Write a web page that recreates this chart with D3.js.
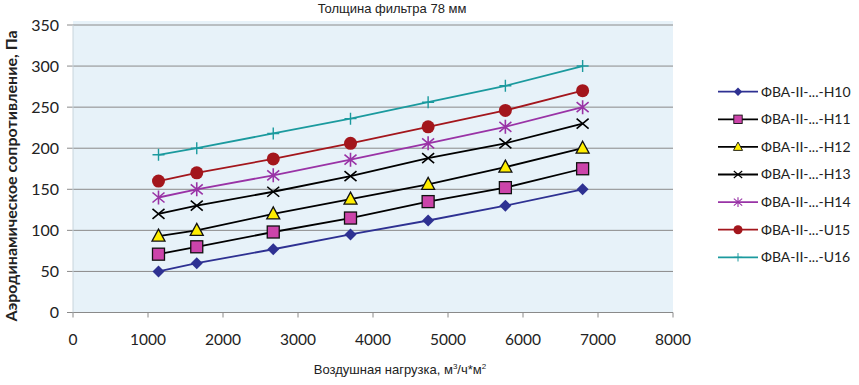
<!DOCTYPE html>
<html><head><meta charset="utf-8">
<script src="https://cdn.jsdelivr.net/npm/d3@7"></script>
<style>body{margin:0;background:#fff}svg{display:block}</style>
</head><body>
<script>
const xValues = [1140, 1650, 2670, 3700, 4735, 5765, 6795];
const seriesNames = ["ФВА-II-...-H10","ФВА-II-...-H11","ФВА-II-...-H12","ФВА-II-...-H13","ФВА-II-...-H14","ФВА-II-...-U15","ФВА-II-...-U16"];
const h10 = [50, 60, 77, 95, 112, 130, 150];
const h11 = [71, 80, 98, 115, 135, 152, 175];
const h12 = [93, 100, 120, 138, 156, 177, 200];
const h13 = [120, 130, 147, 166, 188, 206, 230];
const h14 = [140, 150, 167, 186, 206, 226, 250];
const u15 = [160, 170, 187, 206, 226, 246, 270];
const u16 = [192, 200, 218, 236, 256, 276, 300];
const xTicks = [0,1000,2000,3000,4000,5000,6000,7000,8000];
const yTicks = [0,50,100,150,200,250,300,350];

const styles = [
  {line:"#2e3192", marker:"diamond", fill:"#2e3192", stroke:"#2e3192"},
  {line:"#000000", marker:"square", fill:"#cc44aa", stroke:"#111"},
  {line:"#000000", marker:"triangle", fill:"#ffee00", stroke:"#111"},
  {line:"#000000", marker:"x", fill:"none", stroke:"#000"},
  {line:"#9933a6", marker:"star", fill:"none", stroke:"#9933a6"},
  {line:"#a3161c", marker:"circle", fill:"#a3161c", stroke:"#a3161c"},
  {line:"#1b9a9e", marker:"plus", fill:"none", stroke:"#1b9a9e"}
];
const allSeries = [h10,h11,h12,h13,h14,u15,u16];

const W=859,H=385;
const svg=d3.select("body").append("svg").attr("width",W).attr("height",H);
const x=d3.scaleLinear().domain([0,8000]).range([73,673]);
const y=d3.scaleLinear().domain([0,350]).range([312.5,25]);

svg.append("rect").attr("x",73).attr("y",21).attr("width",600).attr("height",312.5-21).attr("fill","#e7f2f9");

svg.append("g").selectAll("line").data(yTicks).join("line")
  .attr("x1",67).attr("x2",673).attr("y1",d=>y(d)).attr("y2",d=>y(d))
  .attr("stroke","#8a8a8a").attr("stroke-width",1);
svg.append("line").attr("x1",73).attr("x2",673).attr("y1",y(0)).attr("y2",y(0)).attr("stroke","#8a8a8a");
svg.append("line").attr("x1",73).attr("x2",73).attr("y1",y(0)).attr("y2",y(350)).attr("stroke","#c8d4dc");
svg.append("g").selectAll("line").data(xTicks).join("line")
  .attr("x1",d=>x(d)).attr("x2",d=>x(d)).attr("y1",y(0)).attr("y2",y(0)+5).attr("stroke","#8a8a8a");

const tickFont="Lato, 'Open Sans', sans-serif";
svg.append("g").selectAll("text").data(yTicks).join("text")
  .attr("x",59).attr("y",d=>y(d)).attr("dy","0.35em").attr("text-anchor","end")
  .attr("font-family",tickFont).attr("font-size",16).attr("fill","#222").text(d=>d);
svg.append("g").selectAll("text").data(xTicks).join("text")
  .attr("x",d=>x(d)).attr("y",340).attr("dy","0.35em").attr("text-anchor","middle")
  .attr("font-family",tickFont).attr("font-size",15.5).attr("fill","#222").text(d=>d);

svg.append("text").attr("x",392).attr("y",13).attr("text-anchor","middle")
  .attr("font-family","'Liberation Sans Narrow','Liberation Sans',sans-serif").attr("font-size",13).attr("fill","#222")
  .text("Толщина фильтра 78 мм");

const xt=svg.append("text").attr("x",400).attr("y",374).attr("text-anchor","middle")
  .attr("font-family","'Liberation Sans Narrow','Liberation Sans',sans-serif").attr("font-size",13).attr("fill","#222");
xt.append("tspan").text("Воздушная нагрузка, м");
xt.append("tspan").attr("font-size",8).attr("dy",-5).text("3");
xt.append("tspan").attr("dy",5).text("/ч*м");
xt.append("tspan").attr("font-size",8).attr("dy",-5).text("2");

svg.append("text").attr("transform","translate(17,176) rotate(-90)").attr("text-anchor","middle")
  .attr("font-family",tickFont).attr("font-weight","bold").attr("font-size",16).attr("fill","#222")
  .text("Аэродинамическое сопротивление, Па");

function drawMarker(g, type, st){
  if(type==="diamond") g.append("path").attr("d","M0,-6L6,0L0,6L-6,0Z").attr("fill",st.fill);
  else if(type==="square") g.append("rect").attr("x",-6).attr("y",-6).attr("width",12).attr("height",12).attr("fill",st.fill).attr("stroke",st.stroke).attr("stroke-width",1.3);
  else if(type==="triangle") g.append("path").attr("d","M0,-7L6.5,5L-6.5,5Z").attr("fill",st.fill).attr("stroke",st.stroke).attr("stroke-width",1.3);
  else if(type==="x") g.append("path").attr("d","M-6,-5L6,5M-6,5L6,-5").attr("stroke",st.stroke).attr("stroke-width",1.6);
  else if(type==="star") g.append("path").attr("d","M-6,-5L6,5M-6,5L6,-5M0,-7V7").attr("stroke",st.stroke).attr("stroke-width",1.6);
  else if(type==="circle") g.append("circle").attr("r",6.5).attr("fill",st.fill);
  else if(type==="plus") g.append("path").attr("d","M-6,0H6M0,-6V6").attr("stroke",st.stroke).attr("stroke-width",1.4);
}

const line=d3.line().x(d=>x(d[0])).y(d=>y(d[1]));
allSeries.forEach((vals,i)=>{
  const st=styles[i];
  const pts=xValues.map((xv,j)=>[xv,vals[j]]);
  svg.append("path").datum(pts).attr("d",line).attr("fill","none").attr("stroke",st.line).attr("stroke-width",1.8);
  pts.forEach(p=>{
    const g=svg.append("g").attr("transform",`translate(${x(p[0])},${y(p[1])})`);
    drawMarker(g,st.marker,st);
  });
});

const ly0=91.7, lstep=27.6;
seriesNames.forEach((name,i)=>{
  const st=styles[i];
  const ly=ly0+i*lstep;
  svg.append("line").attr("x1",718).attr("x2",758).attr("y1",ly).attr("y2",ly).attr("stroke",st.line).attr("stroke-width",1.8);
  const g=svg.append("g").attr("transform",`translate(738,${ly}) scale(0.7)`);
  drawMarker(g,st.marker,st);
  svg.append("text").attr("x",761).attr("y",ly).attr("dy","0.35em").attr("font-family",tickFont)
    .attr("font-size",14).attr("fill","#222").text(name);
});
</script>
</body></html>
